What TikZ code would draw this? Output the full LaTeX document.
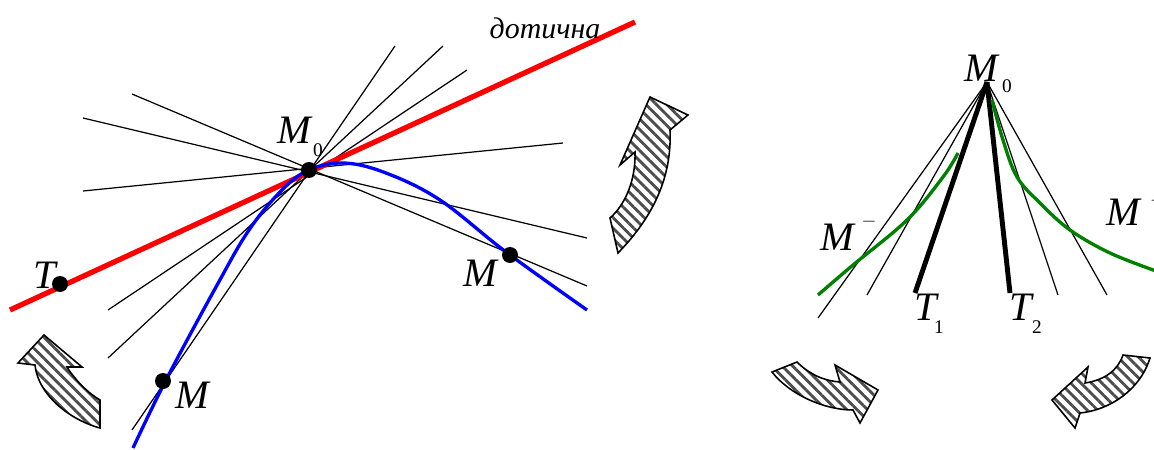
\documentclass[tikz,border=0pt]{standalone}
\usepackage{fontspec}
\setmainfont{Liberation Serif}
\usetikzlibrary{patterns.meta}

\begin{document}
\begin{tikzpicture}[x=0.02cm, y=-0.02cm,
  sec/.style={black, line width=0.7pt},
  tanline/.style={red, line width=3pt},
  bluecurve/.style={blue, line width=1.9pt},
  greencurve/.style={green!50!black, line width=1.9pt},
  thickray/.style={black, line width=2.8pt},
  dot/.style={circle, fill=black, inner sep=0pt, minimum size=0.32cm},
  lbl/.style={font=\fontsize{23}{23}\selectfont\itshape, inner sep=0pt},
  idx/.style={font=\fontsize{11}{11}\selectfont, inner sep=0pt},
  hatch/.style={draw=black, line width=0.9pt, line join=miter,
    pattern={Lines[angle=-45, distance=4.2pt, line width=1.6pt]}, pattern color=black!70}]

  \useasboundingbox (0,0) rectangle (1154,450);

  % ── Left figure: secants through M0 ────────────────────────────────
  \coordinate (Ml) at (309,170);
  \foreach \ax/\ay/\bx/\by in {395/46/132/430, 443/46/108/358, 467/70/108/310,
                               132/94/587/286, 83/118/587/238, 83/191/563/143} {
    \draw[sec] (\ax,\ay) -- (\bx,\by);
  }

  % tangent line
  \draw[tanline] (10,310) -- (635,22);
  \node[font=\fontsize{17}{17}\selectfont\itshape, inner sep=0pt] (tang) at (545,28) {дотична};

  % the curve
  \draw[bluecurve] plot[smooth, tension=0.6] coordinates {(133,448) (166,380) (216,287)
    (249,230) (282,190) (309,170) (344,163) (386,173) (440,200) (506,252) (587,310)};

  % points on the curve
  \node[dot] (T)  at (60,284) {};
  \node[dot] (M0) at (Ml) {};
  \node[dot] (M1) at (163,381) {};
  \node[dot] (M2) at (510,255) {};

  \node[lbl] (Tlbl)  at (45,275) {T};
  \node[lbl] (M0lbl) at (294,130) {M};
  \node[idx] (M0idx) at (318,150) {0};
  \node[lbl] (M1lbl) at (192,395) {M};
  \node[lbl] (M2lbl) at (480,273) {M};

  % ── Right figure: one-sided tangents ───────────────────────────────
  \coordinate (Mr) at (987,82);
  \foreach \ex/\ey in {818/318, 867/295, 1058/295, 1107/295} {
    \draw[sec] (Mr) -- (\ex,\ey);
  }
  \draw[thickray] (Mr) -- (915,293);
  \draw[thickray] (Mr) -- (1010,293);

  \draw[greencurve] plot[smooth, tension=0.6] coordinates {(818,295) (853,265) (907,220)
    (943,177) (958,153)};
  \draw[greencurve] plot[smooth, tension=0.6] coordinates {(992,100) (1003,140) (1017,177)
    (1040,203) (1070,230) (1110,253) (1156,271)};

  \node[lbl] (MRlbl) at (981,68) {M};
  \node[idx] (MRidx) at (1007,86) {0};
  \node[lbl] (T1lbl) at (926,307) {T};
  \node[idx] (T1idx) at (939,327) {1};
  \node[lbl] (T2lbl) at (1021,307) {T};
  \node[idx] (T2idx) at (1037,327) {2};
  \node[lbl] (Mminus) at (837,237) {M};
  \node[idx] (Mmsign) at (869,222) {$-$};
  \node[lbl] (Mplus) at (1123,212) {M};
  \node[idx] (Mpsign) at (1158,201) {$+$};

  % ── Rotation arrows (hatched) ──────────────────────────────────────
  \draw[hatch] (610,218) -- (618,253) .. controls (655,215) and (672,175) .. (670,130)
    -- (688,115) -- (650,97) -- (620,165) -- (635,152)
    .. controls (636,180) and (625,205) .. cycle;
  \draw[hatch] (44,335) -- (82,367) -- (67,367) .. controls (75,380) and (88,393) .. (100,400)
    -- (100,428) .. controls (70,420) and (38,395) .. (35,365) -- (18,363) -- cycle;
  \draw[hatch] (772,372) -- (797,362) .. controls (810,375) and (825,381) .. (840,382)
    -- (835,365) -- (878,390) -- (860,423) -- (853,410)
    .. controls (825,410) and (790,395) .. cycle;
  \draw[hatch] (1123,355) -- (1150,358) .. controls (1140,390) and (1110,410) .. (1080,413)
    -- (1075,428) -- (1052,400) -- (1088,367) -- (1085,383)
    .. controls (1105,380) and (1118,370) .. cycle;

\end{tikzpicture}
\end{document}
